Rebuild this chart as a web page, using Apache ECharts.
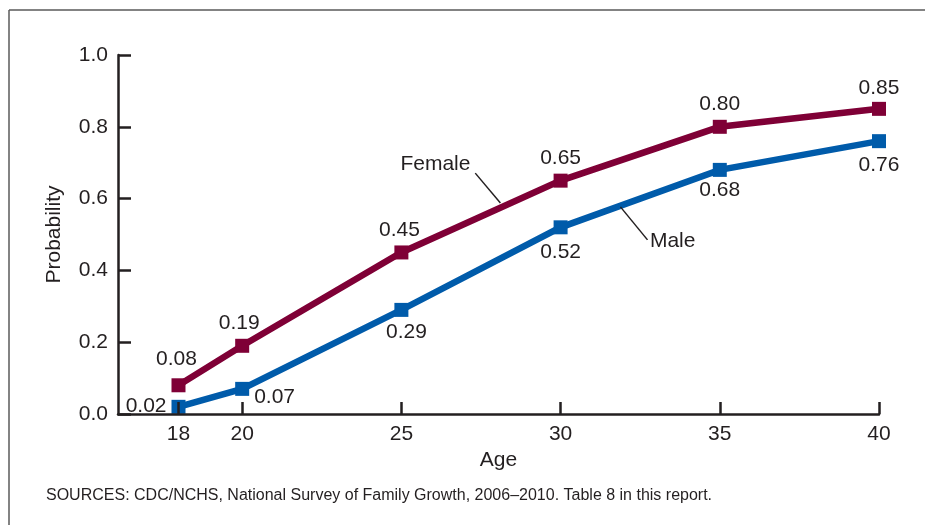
<!DOCTYPE html>
<html>
<head>
<meta charset="utf-8">
<script src="https://cdn.jsdelivr.net/npm/echarts@6/dist/echarts.min.js"></script>
<style>
html,body{margin:0;padding:0;background:#fff;}
#chart{width:925px;height:525px;}
</style>
</head>
<body>
<div id="chart"></div>
<script>
// ---- data ----
const ages = [18, 20, 25, 30, 35, 40];
const female = [0.08, 0.19, 0.45, 0.65, 0.80, 0.85];
const male = [0.02, 0.07, 0.29, 0.52, 0.68, 0.76];
const xTickValues = [18, 20, 25, 30, 35, 40];
const seriesNames = ['Female', 'Male'];
const sourceText = 'SOURCES: CDC/NCHS, National Survey of Family Growth, 2006\u20132010. Table 8 in this report.';
// annotation anchors (data space)
const femaleNameAt = [26.07, 0.696];
const maleNameAt = [33.52, 0.482];
const femaleLeader = [[27.32, 0.671], [28.11, 0.588]];
const maleLeader = [[31.88, 0.577], [32.73, 0.485]];

// ---- label placement (style, separate from data) ----
const femaleLabelStyle = [
  {position: 'top', offset: [-2, -4]},
  {position: 'top', offset: [-3, 0]},
  {position: 'top', offset: [-2, 0]},
  {position: 'top', offset: [0, 0]},
  {position: 'top', offset: [0, 0]},
  {position: 'top', offset: [0, 2]}
];
const maleLabelStyle = [
  {position: 'left', offset: [0, -1]},
  {position: 'right', offset: [0, 8]},
  {position: 'bottom', offset: [5, 0]},
  {position: 'bottom', offset: [0, 2]},
  {position: 'bottom', offset: [0, -2]},
  {position: 'bottom', offset: [0, 2]}
];

const FONT = 'Liberation Sans, Arial, sans-serif';
const INK = '#231f20';
const FEMALE_COLOR = '#7f0036';
const MALE_COLOR = '#005baa';

function buildData(vals, styles) {
  return ages.map((a, i) => ({
    value: [a, vals[i]],
    label: {
      show: true,
      position: styles[i].position,
      offset: styles[i].offset,
      distance: 5,
      formatter: vals[i].toFixed(2),
      color: INK,
      fontSize: 21,
      fontFamily: FONT
    }
  }));
}

const chart = echarts.init(document.getElementById('chart'), null, {renderer: 'canvas'});

const option = {
  animation: false,
  backgroundColor: '#ffffff',
  grid: {left: 118, right: 46, top: 55, bottom: 111, containLabel: false},
  xAxis: {
    type: 'value',
    min: 16.1,
    max: 40,
    z: 5,
    name: 'Age',
    nameLocation: 'middle',
    nameGap: 31,
    nameTextStyle: {color: INK, fontSize: 21, fontFamily: FONT},
    axisLine: {show: true, lineStyle: {color: INK, width: 2.5}},
    axisTick: {show: true, inside: true, length: 12, customValues: xTickValues, lineStyle: {color: INK, width: 2.5}},
    axisLabel: {show: true, customValues: xTickValues, margin: 10, color: INK, fontSize: 21, fontFamily: FONT},
    splitLine: {show: false}
  },
  yAxis: {
    type: 'value',
    min: 0,
    max: 1,
    interval: 0.2,
    name: 'Probability',
    nameLocation: 'middle',
    nameGap: 53,
    nameTextStyle: {color: INK, fontSize: 21, fontFamily: FONT},
    axisLine: {show: true, lineStyle: {color: INK, width: 2.5}},
    axisTick: {show: true, inside: true, length: 13, lineStyle: {color: INK, width: 2.5}},
    axisLabel: {margin: 10, color: INK, fontSize: 21, fontFamily: FONT, formatter: v => v.toFixed(1)},
    splitLine: {show: false}
  },
  graphic: [
    {type: 'line', shape: {x1: 9, y1: 10, x2: 925, y2: 10}, style: {stroke: '#5a5a5a', lineWidth: 1.5}},
    {type: 'line', shape: {x1: 9, y1: 10, x2: 9, y2: 525}, style: {stroke: '#5a5a5a', lineWidth: 1.5}},
    {type: 'text', left: 46, top: 488, style: {text: sourceText, fill: INK, font: '16px ' + FONT}}
  ],
  series: [
    {
      name: seriesNames[0],
      type: 'line',
      data: buildData(female, femaleLabelStyle),
      symbol: 'rect',
      symbolSize: 14,
      showAllSymbol: true,
      lineStyle: {color: FEMALE_COLOR, width: 6.5, join: 'miter'},
      itemStyle: {color: FEMALE_COLOR},
      markLine: {
        silent: true, symbol: ['none', 'none'], animation: false,
        label: {show: false},
        lineStyle: {color: INK, width: 1.5, type: 'solid'},
        data: [[{coord: femaleLeader[0]}, {coord: femaleLeader[1]}]]
      },
      markPoint: {
        silent: true, animation: false,
        symbol: 'circle', symbolSize: 1,
        itemStyle: {color: 'rgba(0,0,0,0)'},
        label: {show: true, position: 'inside', color: INK, fontSize: 21, fontFamily: FONT, formatter: seriesNames[0]},
        data: [{coord: femaleNameAt}]
      }
    },
    {
      name: seriesNames[1],
      type: 'line',
      data: buildData(male, maleLabelStyle),
      symbol: 'rect',
      symbolSize: 14,
      showAllSymbol: true,
      lineStyle: {color: MALE_COLOR, width: 6.5, join: 'miter'},
      itemStyle: {color: MALE_COLOR},
      markLine: {
        silent: true, symbol: ['none', 'none'], animation: false,
        label: {show: false},
        lineStyle: {color: INK, width: 1.5, type: 'solid'},
        data: [[{coord: maleLeader[0]}, {coord: maleLeader[1]}]]
      },
      markPoint: {
        silent: true, animation: false,
        symbol: 'circle', symbolSize: 1,
        itemStyle: {color: 'rgba(0,0,0,0)'},
        label: {show: true, position: 'inside', color: INK, fontSize: 21, fontFamily: FONT, formatter: seriesNames[1]},
        data: [{coord: maleNameAt}]
      }
    }
  ]
};
chart.setOption(option);
</script>
</body>
</html>
